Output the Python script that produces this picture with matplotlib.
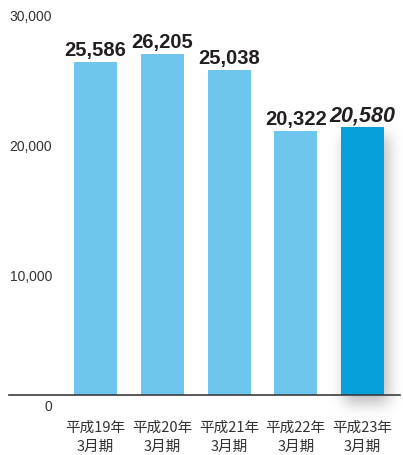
"""Net sales by fiscal year, bar chart with the latest year highlighted."""

import matplotlib.pyplot as plt
import numpy as np

plt.rcParams["font.family"] = ["Liberation Sans", "Noto Sans CJK JP"]

PERIODS_LINE1 = ["平成19年", "平成20年", "平成21年", "平成22年", "平成23年"]
PERIODS_LINE2 = ["3月期", "3月期", "3月期", "3月期", "3月期"]
VALUES = [25586, 26205, 25038, 20322, 20580]
Y_TICKS = [0, 10000, 20000, 30000]

PAST_COLOR = "#6ec6ef"
LATEST_COLOR = "#069fda"
TEXT_COLOR = "#231f20"
AXIS_COLOR = "#3c3c3c"

W, H = 403, 455
DPI = 100


def gaussian_blur(mask, sigma):
    """Separable gaussian blur of a 2-D array."""
    radius = int(3 * sigma)
    k = np.exp(-0.5 * (np.arange(-radius, radius + 1) / sigma) ** 2)
    k /= k.sum()
    out = np.apply_along_axis(lambda r: np.convolve(r, k, mode="same"), 1, mask)
    out = np.apply_along_axis(lambda c: np.convolve(c, k, mode="same"), 0, out)
    return out


fig = plt.figure(figsize=(W / DPI, H / DPI), dpi=DPI)
# axes: x 9..400 px, baseline at y=395 px, 30,000 at y=5 px
ax = fig.add_axes([9 / W, (H - 395) / H, 391 / W, 390 / H])

step = 66.75
x_left = (9 - 95.5) / step
x_right = (400 - 95.5) / step

positions = np.arange(len(VALUES))
colors = [PAST_COLOR] * (len(VALUES) - 1) + [LATEST_COLOR]
bar_width = 43 / step
ax.bar(positions, VALUES, width=bar_width, color=colors, zorder=3)

# soft drop shadow behind the latest bar, built in pixel space
px_per_x = step
px_per_y = 390 / 30000
last = positions[-1]
bx0 = (last - bar_width / 2) * px_per_x
bx1 = (last + bar_width / 2) * px_per_x
by1 = VALUES[-1] * px_per_y
pad = 32
gx = np.arange(bx0 - pad, bx1 + pad)
gy = np.arange(-pad, by1 + pad)
XX, YY = np.meshgrid(gx, gy)
dx, dy = 4, -8
mask = ((XX >= bx0 + dx) & (XX <= bx1 + dx) & (YY >= dy) & (YY <= by1 + dy)).astype(float)
alpha = gaussian_blur(mask, 7.5) * 0.42
shadow = np.zeros(alpha.shape + (4,))
shadow[..., :3] = 0.35
shadow[..., 3] = alpha
ax.imshow(
    shadow[::-1],
    extent=(gx[0] / px_per_x, gx[-1] / px_per_x, gy[0] / px_per_y, gy[-1] / px_per_y),
    aspect="auto",
    zorder=2,
    clip_on=False,
    interpolation="bilinear",
)
ax.set_xlim(x_left, x_right)
ax.set_ylim(0, 30000)

for spine in ["top", "right", "left"]:
    ax.spines[spine].set_visible(False)
ax.spines["bottom"].set_color(AXIS_COLOR)
ax.spines["bottom"].set_linewidth(1.2)
ax.spines["bottom"].set_zorder(4)
ax.set_xticks([])
ax.set_yticks([])
ax.patch.set_visible(False)

# y tick labels sit just below their value level
for tick in Y_TICKS:
    ax.annotate(
        f"{tick:,}",
        xy=((52 - 9) / 391, tick),
        xycoords=("axes fraction", "data"),
        xytext=(0, -12),
        textcoords="offset pixels",
        ha="right",
        va="center",
        fontsize=10,
        color="#333333",
    )

# value labels above each bar, the latest year in italics
for i, (pos, value) in enumerate(zip(positions, VALUES)):
    latest = i == len(VALUES) - 1
    ax.annotate(
        f"{value:,}",
        xy=(pos, value),
        xytext=(0, 6),
        textcoords="offset pixels",
        ha="center",
        va="baseline",
        fontsize=15.5 if latest else 14.5,
        fontweight="bold",
        fontstyle="italic" if latest else "normal",
        color=TEXT_COLOR,
    )

# two-line period labels under the axis
for pos, l1, l2 in zip(positions, PERIODS_LINE1, PERIODS_LINE2):
    for text, off in ((l1, -33), (l2, -52)):
        ax.annotate(
            text,
            xy=(pos, 0),
            xytext=(0, off),
            textcoords="offset pixels",
            ha="center",
            va="center",
            fontsize=10.5,
            family=["Noto Sans CJK JP", "DejaVu Sans"],
            color="#333333",
        )

fig.savefig("out.png", dpi=DPI)
